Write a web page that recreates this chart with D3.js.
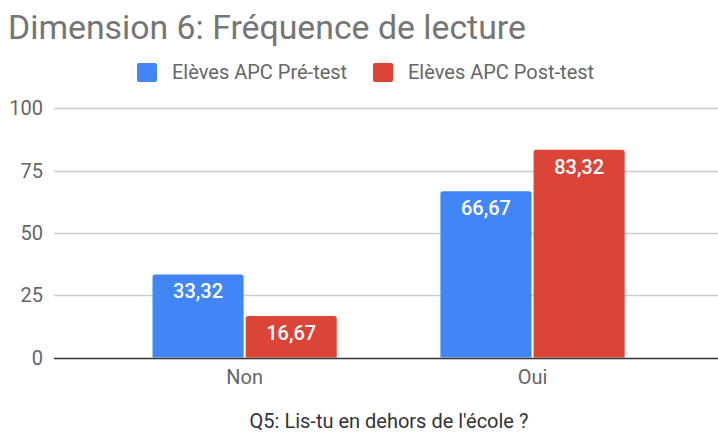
<!DOCTYPE html>
<html>
<head>
<meta charset="utf-8">
<script src="https://cdn.jsdelivr.net/npm/d3@7"></script>
<style>
  body { margin: 0; background: #fff; }
  svg { display: block; font-family: Roboto, Arial, sans-serif; }
</style>
</head>
<body>
<script>
// chart data
var categories = ["Non", "Oui"];
var seriesNames = ["Elèves APC Pré-test", "Elèves APC Post-test"];
var preTest = [33.32, 66.67];
var postTest = [16.67, 83.32];
var yTicks = [0, 25, 50, 75, 100];
var colors = ["#4285f4", "#db4437"];

var width = 718, height = 436;

var svg = d3.select("body").append("svg")
    .attr("width", width)
    .attr("height", height);

var y = d3.scaleLinear().domain([0, 100]).range([357.5, 108.3]);

var x0 = d3.scaleBand()
    .domain(categories)
    .range([100.7, 676.5])
    .paddingInner(0.36)
    .paddingOuter(0.18);

var x1 = d3.scaleBand()
    .domain(seriesNames)
    .range([0, x0.bandwidth()])
    .paddingInner(0.022);

// title
svg.append("text")
    .attr("x", 8)
    .attr("y", 39)
    .style("font-size", "33.8px")
    .style("fill", "#757575")
    .text("Dimension 6: Fréquence de lecture");

// legend
var legendX = [137, 373];
seriesNames.forEach(function(name, i) {
  svg.append("rect")
      .attr("x", legendX[i])
      .attr("y", 63)
      .attr("width", 20)
      .attr("height", 19)
      .attr("rx", 2)
      .style("fill", colors[i]);
  svg.append("text")
      .attr("x", legendX[i] + 35)
      .attr("y", 79)
      .style("font-size", "20px")
      .style("fill", "#666")
      .text(name);
});

// gridlines + tick labels
svg.append("g")
    .selectAll("line")
    .data(yTicks.slice(1))
    .enter().append("line")
    .attr("x1", 54).attr("x2", width)
    .attr("y1", function(d) { return Math.round(y(d)) + 0.5; })
    .attr("y2", function(d) { return Math.round(y(d)) + 0.5; })
    .style("stroke", "#ccc")
    .style("stroke-width", 1.5);

svg.append("g")
    .selectAll("text")
    .data(yTicks)
    .enter().append("text")
    .attr("x", 43)
    .attr("y", function(d) { return y(d) + 7; })
    .attr("text-anchor", "end")
    .style("font-size", "20px")
    .style("fill", "#666")
    .text(function(d) { return d; });

// bars
var rows = categories.map(function(c, i) {
  return [
    {cat: c, s: seriesNames[0], v: preTest[i], color: colors[0]},
    {cat: c, s: seriesNames[1], v: postTest[i], color: colors[1]}
  ];
});

function barPath(x, top, w, bottom, r) {
  return "M" + x + "," + bottom +
    "V" + (top + r) +
    "Q" + x + "," + top + " " + (x + r) + "," + top +
    "H" + (x + w - r) +
    "Q" + (x + w) + "," + top + " " + (x + w) + "," + (top + r) +
    "V" + bottom + "Z";
}

var group = svg.append("g")
    .selectAll("g")
    .data(rows)
    .enter().append("g")
    .attr("transform", function(d, i) { return "translate(" + x0(categories[i]) + ",0)"; });

group.selectAll("path")
    .data(function(d) { return d; })
    .enter().append("path")
    .attr("d", function(d) {
      return barPath(x1(d.s), y(d.v), x1.bandwidth(), y(0), 2.5);
    })
    .style("fill", function(d) { return d.color; });

group.selectAll("text")
    .data(function(d) { return d; })
    .enter().append("text")
    .attr("x", function(d) { return x1(d.s) + x1.bandwidth() / 2; })
    .attr("y", function(d) { return y(d.v) + 24; })
    .attr("text-anchor", "middle")
    .style("font-size", "20px")
    .style("font-weight", "500")
    .style("fill", "#fff")
    .text(function(d) { return d3.format(".2f")(d.v).replace(".", ","); });

// baseline
svg.append("line")
    .attr("x1", 54).attr("x2", width)
    .attr("y1", Math.round(y(0)) + 0.5)
    .attr("y2", Math.round(y(0)) + 0.5)
    .style("stroke", "#333")
    .style("stroke-width", 1.5);

// x labels
svg.append("g")
    .selectAll("text")
    .data(categories)
    .enter().append("text")
    .attr("x", function(d) { return x0(d) + x0.bandwidth() / 2; })
    .attr("y", 384)
    .attr("text-anchor", "middle")
    .style("font-size", "20px")
    .style("fill", "#666")
    .text(function(d) { return d; });

// axis title
svg.append("text")
    .attr("x", 389)
    .attr("y", 428)
    .attr("text-anchor", "middle")
    .style("font-size", "20px")
    .style("fill", "#333")
    .text("Q5: Lis-tu en dehors de l'école ?");
</script>
</body>
</html>
